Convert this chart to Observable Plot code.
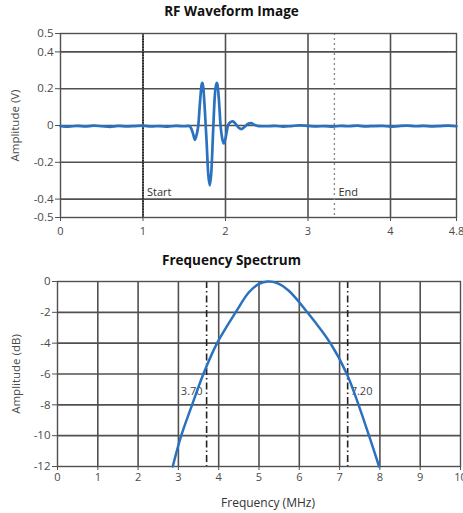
<!DOCTYPE html>
<html>
<head>
<meta charset="utf-8">
<script src="https://cdn.jsdelivr.net/npm/d3@7"></script>
<script src="https://cdn.jsdelivr.net/npm/@observablehq/plot@0.6"></script>
<style>
  html, body { margin: 0; padding: 0; background: #fff; }
  #wrap { position: relative; width: 463px; height: 513px; overflow: hidden; font-family: "Open Sans", Lato, sans-serif; }
  .title { position: absolute; left: 0; width: 463px; text-align: center; font-weight: bold; font-size: 13.5px; color: #111; }
  .chart { position: absolute; left: 0; }
</style>
</head>
<body>
<div id="wrap">
  <div class="chart" id="c1" style="top:0px;"></div>
  <div class="chart" id="c2" style="top:250px;"></div>
  <div class="title" style="top:2px;">RF Waveform Image</div>
  <div class="title" style="top:251px;">Frequency Spectrum</div>
</div>
<script>
// ---- RF waveform data (time in µs, amplitude in V) ----
const waveTime = [
  0, 0.1, 0.2, 0.3, 0.4, 0.5, 0.6, 0.7, 0.8, 0.9, 1.0, 1.1, 1.2, 1.3, 1.4, 1.5,
  1.55, 1.58, 1.61, 1.63, 1.65, 1.67, 1.69, 1.71, 1.72, 1.73, 1.75, 1.77, 1.79, 1.81, 1.83,
  1.85, 1.87, 1.89, 1.90, 1.92, 1.94, 1.96, 1.98, 2.00, 2.03, 2.06, 2.09, 2.12, 2.16, 2.19,
  2.23, 2.27, 2.31, 2.35, 2.40, 2.5, 2.6, 2.7, 2.8, 2.9, 3.0, 3.1, 3.2, 3.3, 3.4, 3.5,
  3.6, 3.7, 3.8, 3.9, 4.0, 4.1, 4.2, 4.3, 4.4, 4.5, 4.6, 4.7, 4.8
];
const waveAmp = [
  -0.003, -0.006, -0.002, -0.005, -0.001, -0.004, -0.007, -0.002, -0.005, -0.003, -0.001, -0.005, -0.003, -0.006, -0.002, -0.004,
  -0.002, -0.012, -0.05, -0.078, -0.05, 0.0, 0.12, 0.22, 0.232, 0.21, 0.08, -0.08, -0.26, -0.325, -0.24,
  -0.03, 0.16, 0.232, 0.228, 0.14, 0.0, -0.07, -0.097, -0.07, 0.0, 0.018, 0.022, 0.01, -0.012, -0.02,
  -0.008, 0.008, 0.013, 0.004, -0.003, -0.004, -0.002, -0.006, -0.003, 0.001, -0.002, -0.005, -0.003, -0.006, -0.002, -0.004,
  -0.001, -0.005, -0.003, -0.002, -0.006, -0.003, -0.001, -0.004, -0.002, -0.005, -0.003, -0.001, -0.004
];
const waveXTicks = [0, 1, 2, 3, 4, 4.8];
const waveXTickLabels = ["0", "1", "2", "3", "4", "4.8"];
const waveYTicks = [0.5, 0.4, 0.2, 0, -0.2, -0.4, -0.5];
const waveYTickLabels = ["0.5", "0.4", "0.2", "0", "-0.2", "-0.4", "-0.5"];
const waveGridY = [0.4, 0.2, 0, -0.2, -0.4];
const waveGridX = [1, 2, 3, 4];
const cursorNames = ["Start", "End"];
const cursorTimes = [1.0, 3.32];

// ---- Frequency spectrum data (MHz, dB) ----
const freqMHz = [2.86, 3.07, 3.34, 3.62, 3.96, 4.42, 4.75, 5.0, 5.22, 5.45, 5.74, 6.2, 6.77, 7.18, 7.47, 7.73, 7.98];
const ampDB   = [-12, -10, -8, -6, -4, -2, -0.7, -0.15, 0, -0.1, -0.6, -2, -4, -6, -8, -10, -12];
const specXTicks = [0, 1, 2, 3, 4, 5, 6, 7, 8, 9, 10];
const specXTickLabels = ["0", "1", "2", "3", "4", "5", "6", "7", "8", "9", "10"];
const specYTicks = [0, -2, -4, -6, -8, -10, -12];
const specYTickLabels = ["0", "-2", "-4", "-6", "-8", "-10", "-12"];
const bandEdges = [3.70, 7.20];
const bandEdgeLabels = ["3.70", "7.20"];

const gridColor = "#505050";
const lineColor = "#2a72c0";
const tickColor = "#4a4a4a";
const font = "'Open Sans', Lato, sans-serif";

const wave = waveTime.map((t, i) => ({t, a: waveAmp[i]}));
const spec = freqMHz.map((f, i) => ({f, db: ampDB[i]}));

const p1 = Plot.plot({
  width: 463, height: 240,
  marginTop: 33, marginBottom: 23, marginLeft: 60, marginRight: 7,
  style: {fontFamily: font, fontSize: "11px", color: tickColor, overflow: "visible"},
  x: {domain: [0, 4.8]},
  y: {domain: [-0.5, 0.5]},
  marks: [
    Plot.gridX(waveGridX, {stroke: gridColor, strokeOpacity: 1, strokeWidth: 1.6}),
    Plot.gridY(waveGridY, {stroke: gridColor, strokeOpacity: 1, strokeWidth: 1.6}),
    Plot.ruleX([cursorTimes[0]], {stroke: "#1a1a1a", strokeWidth: 1.6, strokeDasharray: "1.5,1.2"}),
    Plot.ruleX([cursorTimes[1]], {stroke: "#8a8a8a", strokeWidth: 1.4, strokeDasharray: "2,3"}),
    Plot.frame({stroke: gridColor, strokeWidth: 1.4}),
    Plot.axisX({ticks: waveXTicks, tickFormat: (d) => waveXTickLabels[waveXTicks.indexOf(d)], tickSize: 4, tickPadding: 6, label: null, stroke: gridColor}),
    Plot.axisY({ticks: waveYTicks, tickFormat: (d) => waveYTickLabels[waveYTicks.indexOf(d)], tickSize: 5, tickPadding: 2, label: "Amplitude (V)", labelAnchor: "center", labelArrow: "none", labelOffset: 50, fontSize: 11.5, stroke: gridColor}),
    Plot.text(cursorNames, {x: cursorTimes, y: -0.365, text: (d) => d, textAnchor: "start", dx: 4, fontSize: 11, fill: "#333"}),
    Plot.line(wave, {x: "t", y: "a", stroke: lineColor, strokeWidth: 2.7, curve: "monotone-x"})
  ]
});
document.getElementById("c1").append(p1);

const p2 = Plot.plot({
  width: 463, height: 263,
  marginTop: 31, marginBottom: 47, marginLeft: 57, marginRight: 3,
  style: {fontFamily: font, fontSize: "11px", color: tickColor, overflow: "visible"},
  x: {domain: [0, 10]},
  y: {domain: [-12, 0]},
  marks: [
    Plot.gridX(specXTicks.slice(1, -1), {stroke: gridColor, strokeOpacity: 1, strokeWidth: 1.6}),
    Plot.gridY(specYTicks.slice(1, -1), {stroke: gridColor, strokeOpacity: 1, strokeWidth: 1.6}),
    Plot.ruleX(bandEdges, {stroke: "#222", strokeWidth: 1.6, strokeDasharray: "7,3,1.5,3"}),
    Plot.frame({stroke: gridColor, strokeWidth: 1.4}),
    Plot.axisX({ticks: specXTicks, tickFormat: (d) => specXTickLabels[specXTicks.indexOf(d)], tickSize: 4, tickPadding: 3, label: null, stroke: gridColor}),
    Plot.axisY({ticks: specYTicks, tickFormat: (d) => specYTickLabels[specYTicks.indexOf(d)], tickSize: 5, tickPadding: 2, label: "Amplitude (dB)", labelAnchor: "center", labelArrow: "none", labelOffset: 46, fontSize: 11.5, stroke: gridColor}),
    Plot.text(["Frequency (MHz)"], {frameAnchor: "bottom", dx: 9, dy: 40, text: (d) => d, fontSize: 12, fill: "#333"}),
    Plot.text([bandEdgeLabels[0]], {x: bandEdges[0], y: -7.15, text: (d) => d, textAnchor: "end", dx: -4, fontSize: 11, fill: "#444"}),
    Plot.text([bandEdgeLabels[1]], {x: bandEdges[1], y: -7.15, text: (d) => d, textAnchor: "start", dx: 3, fontSize: 11, fill: "#444"}),
    Plot.line(spec, {x: "f", y: "db", stroke: lineColor, strokeWidth: 2.5, curve: "catmull-rom"})
  ]
});
document.getElementById("c2").append(p2);
</script>
</body>
</html>
